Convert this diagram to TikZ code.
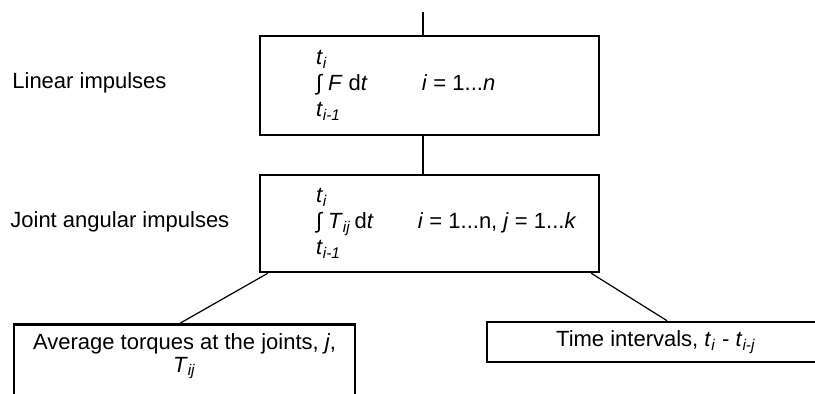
\documentclass[tikz,border=0pt]{standalone}
\usepackage{fontspec}
\setmainfont{Liberation Sans}
\usetikzlibrary{calc}

\newcommand{\tsub}[1]{\textit{t}\textsubscript{\textit{#1}}}
\newcommand{\introws}[3]{\begin{tabular}{@{\hspace{28pt}}p{141.5pt}@{}}#1\\#2\\#3\end{tabular}}
\tikzset{
  txt/.style={font=\fontsize{11}{13}\selectfont, inner sep=0pt},
  sidelabel/.style={txt, anchor=west},
  formbox/.style={draw, line width=1.3pt, txt, minimum width=169.5pt,
                  minimum height=49.5pt},
  leafbox/.style={draw, line width=1.3pt, txt},
  link/.style={line width=0.6pt},
}

\begin{document}
\begin{tikzpicture}[x=0.5pt, y=-0.5pt]
  \useasboundingbox (0,0) rectangle (815,394);
  \clip (0,0) rectangle (815,394);

  \node[sidelabel] (linlab) at (12,83) {Linear impulses};
  \node[sidelabel] (anglab) at (10,222) {Joint angular impulses};

  \node[formbox] (lin) at (429.5,85.5)
    {\introws{\tsub{i}}
             {\makebox[53pt][l]{∫ \textit{F} d\textit{t}}\textit{i} = 1...\textit{n}}
             {\tsub{i-1}}};
  \node[formbox, minimum height=48.5pt] (ang) at (429.5,223.5)
    {\introws{\tsub{i}}
             {\makebox[51pt][l]{∫ \textit{T}\textsubscript{\textit{ij}}\,d\textit{t}}\textit{i} = 1...n, \textit{j} = 1...\textit{k}}
             {\tsub{i-1}}};

  % bottom of the left box runs off the page
  \node[leafbox, anchor=north, minimum width=170.5pt] (avg) at (184.5,323)
    {\parbox[c][45pt][t]{170.5pt}{\centering\vspace*{4.5pt}%
      Average torques at the joints, \textit{j},\\[-1.5pt]
      \textit{T}\textsubscript{\textit{ij}}}};
  \node[leafbox, minimum width=169pt, minimum height=20pt] (time) at (656,342)
    {Time intervals, \tsub{i} - \tsub{i-j}};

  \coordinate (top) at (423,12);
  \draw[link] (top) -- (top |- lin.north);
  \draw[link] (lin.south -| top) -- (top |- ang.north);
  \draw[link] ($(ang.south west)+(9,0)$) -- ($(avg.north)+(-4,0)$);
  \draw[link] ($(ang.south east)+(-9,0)$) -- ($(time.north)+(11,0)$);
\end{tikzpicture}
\end{document}
